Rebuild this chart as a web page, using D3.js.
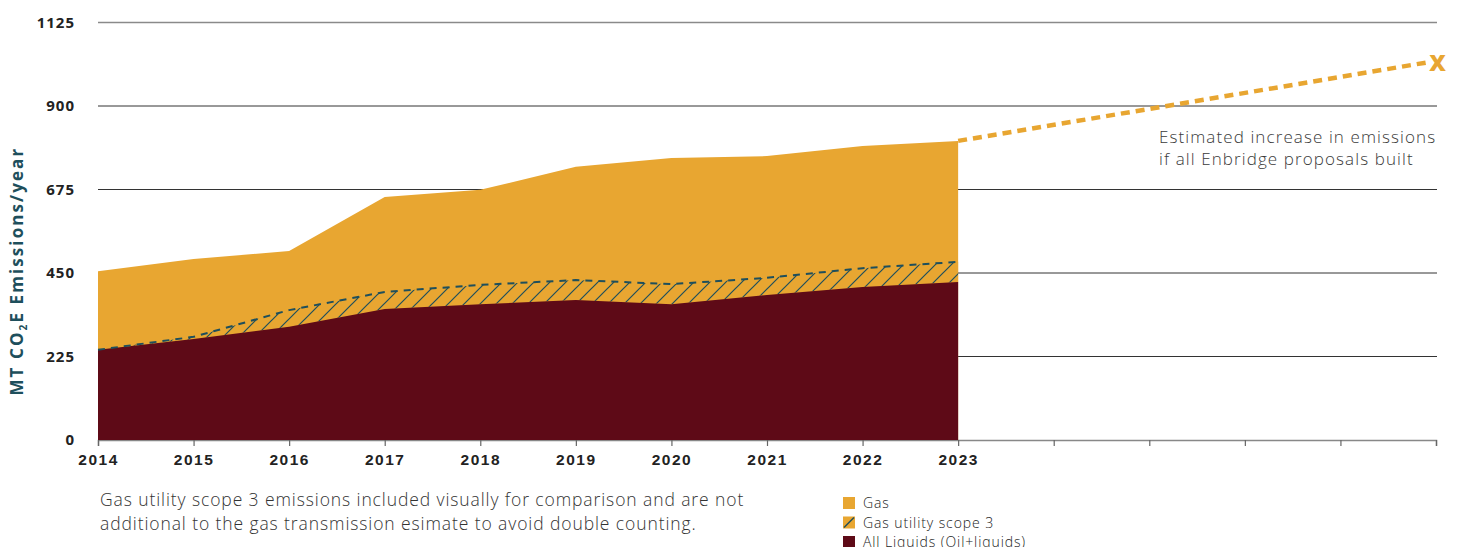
<!DOCTYPE html>
<html><head><meta charset="utf-8">
<script src="https://cdn.jsdelivr.net/npm/d3@7/dist/d3.min.js"></script>
<style>
body{margin:0;background:#fff;}
svg{display:block;font-family:"Open Sans",Lato,sans-serif;}
</style></head>
<body><svg id="c" width="1461" height="547"></svg>
<script>
const years = [2014,2015,2016,2017,2018,2019,2020,2021,2022,2023];
const gasTotal = [455,488,509,655,674,736,760,765,792,806];
const scope3Top = [243,278,350,399,418,431,420,437,463,480];
const liquids = [243,272,305,353,366,377,366,391,412,426];
const projYears = [2023,2027.92];
const projValues = [806,1018];
const yTicks = [0,225,450,675,900,1125];
const xTickYears = [2014,2015,2016,2017,2018,2019,2020,2021,2022,2023,2024,2025,2026,2027,2028];
const legendItems = ["Gas","Gas utility scope 3","All Liquids (Oil+liquids)"];
const note = ["Gas utility scope 3 emissions included visually for comparison and are not","additional to the gas transmission esimate to avoid double counting."];
const annot = ["Estimated increase in emissions","if all Enbridge proposals built"];

const GAS="#E8A631", LIQ="#5E0A17", TEAL="#1E4F5C";
const svg=d3.select("#c");
const x=d3.scaleLinear().domain([2014,2028]).range([98,1436]);
const y=d3.scaleLinear().domain([0,1125]).range([440,22.5]);

const defs=svg.append("defs");
const pat=defs.append("pattern").attr("id","hatch").attr("patternUnits","userSpaceOnUse").attr("width",16).attr("height",16);
pat.append("rect").attr("width",16).attr("height",16).attr("fill",GAS);
pat.append("path").attr("d","M-2,18 L18,-2 M-2,2 L2,-2 M14,18 L18,14").attr("stroke",TEAL).attr("stroke-width",1.2);

// gridlines
svg.append("g").selectAll("line").data(yTicks.filter(d=>d>0)).join("line")
  .attr("x1",98).attr("x2",1437).attr("y1",d=>y(d)).attr("y2",d=>y(d))
  .attr("stroke",d=>d===1125?"#8a8a8a":"#333").attr("stroke-width",d=>d===1125?1.6:1);

// x axis
const xa=svg.append("g").attr("transform",`translate(0,${y(0)})`)
  .call(d3.axisBottom(x).tickValues(xTickYears).tickSize(6).tickFormat(d=>d<=2023?d:""));
xa.select(".domain").attr("stroke","#888").attr("stroke-width",1.5);
xa.selectAll(".tick line").attr("stroke","#666").attr("stroke-width",1.2);
xa.selectAll(".tick text").attr("font-size",15.5).attr("font-weight",700).attr("fill","#222").attr("dy","1.05em").attr("letter-spacing","1.5px");

const idx=d3.range(years.length);
const aGas=d3.area().x(i=>x(years[i])).y0(y(0)).y1(i=>y(gasTotal[i]));
const aS3=d3.area().x(i=>x(years[i])).y0(i=>y(liquids[i])).y1(i=>y(scope3Top[i]));
const aLiq=d3.area().x(i=>x(years[i])).y0(y(0)).y1(i=>y(liquids[i]));
svg.append("path").attr("d",aGas(idx)).attr("fill",GAS);
svg.append("path").attr("d",aS3(idx)).attr("fill","url(#hatch)");
svg.append("path").attr("d",aLiq(idx)).attr("fill",LIQ);
svg.append("path").attr("d",d3.line().x(i=>x(years[i])).y(i=>y(scope3Top[i]))(idx))
  .attr("fill","none").attr("stroke",TEAL).attr("stroke-width",2).attr("stroke-dasharray","7,6");

// y tick labels
svg.append("g").selectAll("text").data(yTicks).join("text")
  .attr("x",75).attr("y",d=>y(d)).attr("dy","0.35em").attr("text-anchor","end")
  .attr("font-size",15).attr("font-weight",700).attr("fill","#222").attr("letter-spacing","1px").text(d=>d);

// y title
const yt=svg.append("text").attr("transform",`translate(23,${y(455)}) rotate(-90)`).attr("text-anchor","middle")
  .attr("font-size",17).attr("font-weight",700).attr("fill",TEAL).attr("letter-spacing","2.1px");
yt.append("tspan").text("MT CO");
yt.append("tspan").attr("font-size",10).attr("dy",4).text("2");
yt.append("tspan").attr("dy",-4).text("E Emissions/year");

// projection
svg.append("path").attr("d",d3.line().x((d,i)=>x(projYears[i])).y(d=>y(d))(projValues))
  .attr("fill","none").attr("stroke",GAS).attr("stroke-width",4.5).attr("stroke-dasharray","9,6");
svg.append("text").attr("x",x(projYears[1])+1).attr("y",y(projValues[1])).attr("dy","0.38em")
  .attr("font-size",23).attr("font-weight",800).attr("fill",GAS).text("X");

svg.append("g").selectAll("text").data(annot).join("text")
  .attr("x",1159).attr("y",(d,i)=>143+i*21.5).attr("font-size",17).attr("font-weight",300).attr("fill","#3a3a3a").attr("letter-spacing","1.1px").text(d=>d);

svg.append("g").selectAll("text").data(note).join("text")
  .attr("x",100).attr("y",(d,i)=>506+i*24).attr("font-size",17.5).attr("font-weight",300).attr("fill","#333").attr("letter-spacing","0.9px").text(d=>d);

const lg=svg.append("g").selectAll("g").data(legendItems).join("g").attr("transform",(d,i)=>`translate(843,${497+i*19.5})`);
lg.append("rect").attr("width",12).attr("height",12).attr("fill",(d,i)=>i===2?LIQ:GAS);
lg.filter((d,i)=>i===1).append("line").attr("x1",1).attr("y1",11).attr("x2",11).attr("y2",1).attr("stroke",TEAL).attr("stroke-width",1.5);
lg.append("text").attr("x",20).attr("y",11).attr("font-size",14).attr("font-weight",300).attr("fill","#222").attr("letter-spacing","0.9px").text(d=>d);
</script></body></html>
